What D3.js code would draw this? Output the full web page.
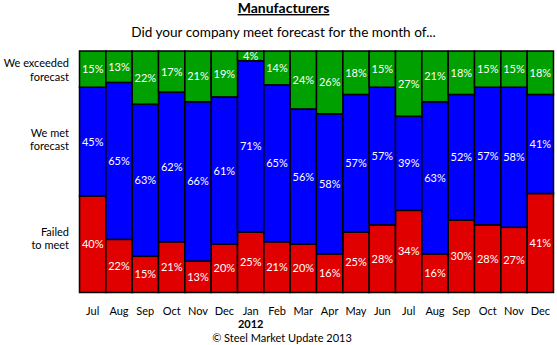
<!DOCTYPE html>
<html><head><meta charset="utf-8">
<script src="https://cdn.jsdelivr.net/npm/d3@7"></script>
<style>body{margin:0;background:#fff}svg{display:block}text{font-family:Lato,"Liberation Sans",sans-serif}</style>
</head><body><svg id="c" width="557" height="345"></svg>
<script>
const months = ["Jul","Aug","Sep","Oct","Nov","Dec","Jan","Feb","Mar","Apr","May","Jun","Jul","Aug","Sep","Oct","Nov","Dec"];
const failed   = [40,22,15,21,13,20,25,21,20,16,25,28,34,16,30,28,27,41];
const met      = [45,65,63,62,66,61,71,65,56,58,57,57,39,63,52,57,58,41];
const exceeded = [15,13,22,17,21,19,4,14,24,26,18,15,27,21,18,15,15,18];
const seriesNames = ["Failed to meet","We met forecast","We exceeded forecast"];
const colors = ["#E00000","#0000FF","#00A000"];

const svg = d3.select("#c");
const L = 79.5, R = 553.5, T = 51, B = 292.5;
const x = d3.scaleBand().domain(d3.range(months.length)).range([L, R]).padding(0);
const y = d3.scaleLinear().domain([0,100]).range([B, T]);

const rows = months.map((m,i)=>({i, m, v:[failed[i], met[i], exceeded[i]]}));
const stack = d3.stack().keys([0,1,2]).value((d,k)=>d.v[k])(rows);

stack.forEach((layer, k) => {
  const g = svg.append("g");
  g.selectAll("rect").data(layer).enter().append("rect")
    .attr("x", d => x(d.data.i))
    .attr("width", x.bandwidth())
    .attr("y", d => y(d[1]))
    .attr("height", d => y(d[0]) - y(d[1]))
    .attr("fill", colors[k])
    .attr("stroke", "#000")
    .attr("stroke-width", 1.5);
});
stack.forEach((layer, k) => {
  svg.append("g").selectAll("text").data(layer).enter().append("text")
    .attr("x", d => x(d.data.i) + x.bandwidth()/2)
    .attr("y", d => (y(d[0]) + y(d[1]))/2 + 4)
    .attr("text-anchor","middle")
    .attr("font-size", 11)
    .attr("fill", "#fff")
    .text(d => d.data.v[k] + "%");
});

// x axis labels
svg.append("g").selectAll("text").data(months).enter().append("text")
  .attr("x", (d,i)=> x(i) + x.bandwidth()/2)
  .attr("y", 314.5)
  .attr("text-anchor","middle").attr("font-size", 11).attr("fill","#000")
  .text(d=>d);
svg.append("text").attr("x", x(6)+x.bandwidth()/2).attr("y", 328)
  .attr("text-anchor","middle").attr("font-size", 11).attr("font-weight","bold").text("2012");
svg.append("text").attr("x", 282).attr("y", 342)
  .attr("text-anchor","middle").attr("font-size", 11).text("© Steel Market Update 2013");

// y category labels
const yLabels = [["Failed","to meet"],["We met","forecast"],["We exceeded","forecast"]];
const yLabelPos = [[235.5,248.5],[136.5,150],[67,80.5]];
yLabels.forEach((lines,k)=>{
  lines.forEach((t,j)=>{
    svg.append("text").attr("x", 69).attr("y", yLabelPos[k][j])
      .attr("text-anchor","end").attr("font-size", 11).attr("fill","#000").text(t);
  });
});

// titles
svg.append("text").attr("x", 283.5).attr("y", 13).attr("text-anchor","middle")
  .attr("font-size", 14).attr("font-weight","bold").attr("text-decoration","underline").text("Manufacturers");
svg.append("text").attr("x", 283.5).attr("y", 37).attr("text-anchor","middle")
  .attr("font-size", 13.6).text("Did your company meet forecast for the month of...");
</script></body></html>
